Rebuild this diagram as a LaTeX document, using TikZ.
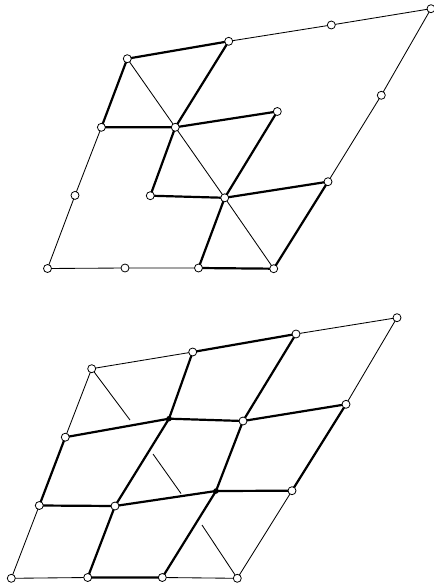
\documentclass[tikz,border=0pt]{standalone}
\tikzset{
  v/.style={circle,draw=black,fill=white,line width=0.8pt,inner sep=0pt,minimum size=8pt},
  dotv/.style={circle,fill=black,inner sep=0pt,minimum size=5.5pt},
  thin edge/.style={line width=0.85pt,black},
  thick edge/.style={line width=2.2pt,black}
}
\begin{document}
\begin{tikzpicture}[x=1pt,y=-1pt]
\useasboundingbox (0,0) rectangle (433,585);
% top figure
\foreach \n/\x/\y in {a1/47.5/268.5,a2/125/268,a3/198.5/268,a4/273.7/268.7,
  a5/75/195.4,a6/101.4/127.3,a7/127.3/58.7,a8/228.7/41.3,a9/331.3/25,a10/431/8.7,
  a11/381.3/95.3,a12/328/181.7,a13/175.3/127.3,a14/277.3/111.5,a15/150.3/195.7,a16/224.7/197.8}
  {\coordinate (\n) at (\x,\y);}
\draw[thin edge] (a1)--(a2)--(a3);
\draw[thin edge] (a1)--(a5)--(a6);
\draw[thin edge] (a8)--(a9)--(a10)--(a11)--(a12);
\draw[thin edge] (a7)--(a13)--(a16)--(a4);
\draw[thick edge] (a6)--(a7)--(a8)--(a13)--(a6);
\draw[thick edge] (a13)--(a14)--(a16)--(a15)--(a13);
\draw[thick edge] (a16)--(a12)--(a4)--(a3)--(a16);
\foreach \n in {a1,a2,a3,a4,a5,a6,a7,a8,a9,a10,a11,a12,a13,a14,a15,a16}
  {\node[v] at (\n) {};}
% bottom figure
\foreach \n/\x/\y in {b1/11.3/578.3,b2/87.7/577.5,b3/162.3/577.5,b4/237.3/578.3,
  b5/39.3/505.5,b6/65.3/437.2,b7/91.7/368.7,b8/192.7/352,b9/296/334,b10/397/317.7,
  b11/346/404.3,b12/292/490.7,b13/115/506,b14/169/418.7,b15/243/421,b16/216/491,
  s1/130/420,s2/153/454,s3/181/493.5,s4/202/525}
  {\coordinate (\n) at (\x,\y);}
\draw[thin edge] (b1)--(b2);
\draw[thin edge] (b3)--(b4)--(b12);
\draw[thin edge] (b1)--(b5);
\draw[thin edge] (b6)--(b7)--(b8);
\draw[thin edge] (b9)--(b10)--(b11);
\draw[thin edge] (b7)--(s1);
\draw[thin edge] (s2)--(s3);
\draw[thin edge] (s4)--(b4);
\draw[thick edge] (b5)--(b6)--(b14)--(b13)--(b5);
\draw[thick edge] (b14)--(b8)--(b9)--(b15)--(b14);
\draw[thick edge] (b15)--(b11)--(b12)--(b16)--(b15);
\draw[thick edge] (b13)--(b16)--(b3)--(b2)--(b13);
\foreach \n in {b1,b2,b3,b4,b5,b6,b7,b8,b9,b10,b11,b12,b13,b15}
  {\node[v] at (\n) {};}
\node[dotv] at (b14) {};
\node[dotv] at (b16) {};
\end{tikzpicture}
\end{document}
